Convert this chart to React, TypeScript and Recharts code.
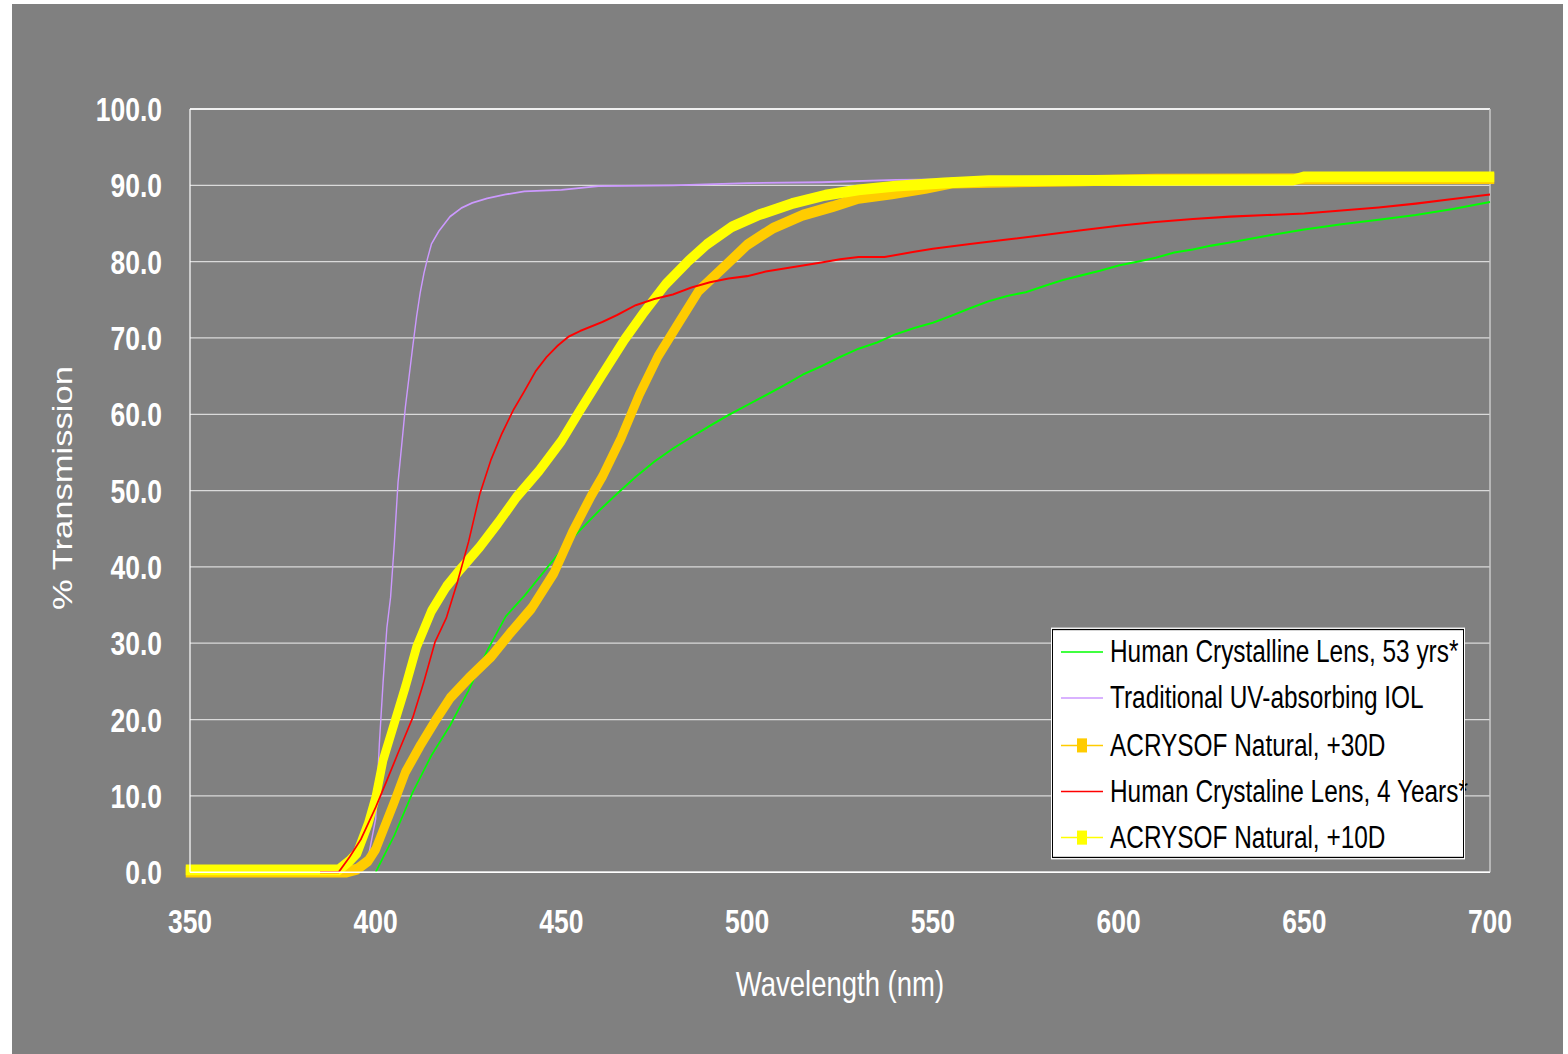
import React from 'react';
import { LineChart, Line, XAxis, YAxis, CartesianGrid, Legend, ReferenceLine } from 'recharts';

// source image is stretched vertically, so the chart is drawn shorter and scaled in Y
const STRETCH = 1.2805;
const FONT = '"Liberation Sans", Arial, Helvetica, sans-serif';

const wavelengthTicks = [350, 400, 450, 500, 550, 600, 650, 700];
const transmissionTicks = [0, 10, 20, 30, 40, 50, 60, 70, 80, 90, 100];

const lens53Wavelength = [400, 405, 410, 415, 420, 425, 430, 435, 440, 445, 450, 455, 460, 465, 470, 475, 480, 485, 490, 495, 500, 505, 510, 515, 520, 525, 530, 535, 540, 545, 550, 555, 560, 565, 570, 575, 580, 585, 590, 595, 600, 605, 610, 615, 620, 625, 630, 640, 650, 660, 670, 680, 690, 700];
const lens53Values = [0, 4.8, 10.5, 15.3, 19.2, 23.8, 29.0, 33.5, 36.2, 39.2, 42.2, 44.8, 47.3, 49.6, 51.8, 53.8, 55.5, 57.0, 58.5, 59.9, 61.2, 62.5, 63.8, 65.2, 66.3, 67.5, 68.6, 69.4, 70.5, 71.3, 72.0, 72.9, 73.9, 74.8, 75.5, 76.0, 76.8, 77.6, 78.2, 78.8, 79.5, 80.0, 80.5, 81.2, 81.6, 82.1, 82.5, 83.4, 84.2, 84.9, 85.5, 86.1, 86.9, 87.8];

const uvIolWavelength = [375, 395, 398, 400, 401, 402, 403, 404, 405, 406, 407, 408, 409, 410, 411, 412, 413, 414, 415, 417, 420, 423, 426, 430, 435, 440, 450, 460, 480, 500, 520, 540, 560, 600, 650, 700];
const uvIolValues = [0, 0, 2, 7, 17, 25, 32, 36, 43, 51, 56, 61, 65, 69, 72.8, 76, 78.5, 80.5, 82.3, 84, 85.9, 87, 87.7, 88.3, 88.8, 89.2, 89.4, 89.9, 90.0, 90.3, 90.4, 90.7, 90.8, 91.2, 91.4, 91.5];

const natural30Wavelength = [350, 392, 395, 398, 400, 402, 405, 408, 412, 416, 420, 425, 431, 436, 442, 448, 453, 458, 461, 466, 471, 476, 482, 487, 494, 500, 507, 515, 523, 530, 539, 548, 555, 590, 610, 700];
const natural30Values = [0, 0, 0.4, 1.5, 3.0, 5.5, 9.2, 13.1, 16.6, 19.8, 22.8, 25.4, 28.2, 31.2, 34.6, 39.2, 44.6, 49.3, 51.8, 56.8, 62.6, 67.6, 72.3, 76.2, 79.4, 82.2, 84.4, 86.1, 87.2, 88.3, 88.9, 89.6, 90.3, 90.6, 90.8, 90.9];

const lens4Wavelength = [385, 390, 393, 396, 400, 403, 406, 410, 413, 416, 419, 422, 425, 428, 431, 434, 437, 440, 443, 446, 449, 452, 455, 458, 461, 465, 470, 475, 480, 485, 490, 495, 500, 505, 510, 515, 520, 525, 530, 537, 545, 550, 560, 570, 580, 590, 600, 610, 620, 630, 640, 650, 660, 670, 680, 690, 700];
const lens4Values = [0, 0, 2, 4.3, 8.5, 12, 15.6, 20.3, 25, 30.2, 33.3, 38, 43.3, 49.5, 54, 57.5, 60.5, 63, 65.6, 67.5, 69, 70.2, 70.9, 71.5, 72.1, 73, 74.3, 75.1, 75.7, 76.6, 77.3, 77.8, 78.1, 78.7, 79.1, 79.5, 79.9, 80.3, 80.6, 80.6, 81.3, 81.7, 82.3, 82.9, 83.5, 84.1, 84.7, 85.2, 85.6, 85.9, 86.1, 86.3, 86.7, 87.1, 87.6, 88.2, 88.8];

const natural10Wavelength = [350, 390, 393, 395, 398, 400, 402, 405, 408, 411, 415, 419, 423, 428, 433, 438, 444, 450, 455, 461, 467, 472, 478, 484, 489, 496, 503, 512, 521, 530, 540, 553, 565, 647, 650, 700];
const natural10Values = [0.3, 0.3, 1.5, 2.5, 6.4, 9.8, 14.7, 19.5, 24.3, 29.5, 34.2, 37.4, 39.8, 42.6, 45.8, 49.2, 52.6, 56.5, 60.5, 65.2, 69.8, 73.2, 77.0, 80.0, 82.2, 84.6, 86.1, 87.6, 88.7, 89.4, 89.9, 90.3, 90.6, 90.7, 91.1, 91.1];

const toPoints = (w: number[], v: number[]) => w.map((x, i) => ({ w: x, v: v[i] }));

const lens53 = { name: 'Human Crystalline Lens, 53 yrs*', color: '#00FF00', width: 1.6, marker: false, data: toPoints(lens53Wavelength, lens53Values) };
const uvIol = { name: 'Traditional UV-absorbing IOL', color: '#CC99FF', width: 1.4, marker: false, data: toPoints(uvIolWavelength, uvIolValues) };
const natural30 = { name: 'ACRYSOF Natural, +30D', color: '#FFCC00', width: 8.5, marker: true, data: toPoints(natural30Wavelength, natural30Values) };
const lens4 = { name: 'Human Crystaline Lens, 4 Years*', color: '#FF0000', width: 1.6, marker: false, data: toPoints(lens4Wavelength, lens4Values) };
const natural10 = { name: 'ACRYSOF Natural, +10D', color: '#FFFF00', width: 8.5, marker: true, data: toPoints(natural10Wavelength, natural10Values) };

const legendOrder = [lens53, uvIol, natural30, lens4, natural10];
// red sits on top of the yellow band, lavender underneath it
const drawOrder = [lens53, uvIol, natural30, natural10, lens4];

const LegendBox = () => (
  <div
    style={{
      width: 412,
      height: 179,
      boxSizing: 'border-box',
      background: '#fff',
      border: '1px solid #000',
      outline: '1.5px solid #fff',
      fontFamily: FONT,
      fontSize: 24.4,
      color: '#000',
    }}
  >
    <div style={{ marginTop: -1 }}>
      {legendOrder.map((s) => (
        <div key={s.name} style={{ height: 36.3, display: 'flex', alignItems: 'center', whiteSpace: 'nowrap' }}>
          <svg width={42} height={14} style={{ marginLeft: 8, marginRight: 7, flex: 'none' }}>
            <line x1={0} x2={42} y1={7} y2={7} stroke={s.color} strokeWidth={1.2} />
            {s.marker && <rect x={16} y={1.5} width={10} height={11} fill={s.color} />}
          </svg>
          <span>{s.name}</span>
        </div>
      ))}
    </div>
  </div>
);

export default function App() {
  return (
    <div style={{ position: 'absolute', left: 12, top: 4, width: 1551, height: 1050, background: '#808080', overflow: 'hidden' }}>
      <div style={{ width: 1551, height: 820, transform: `scaleY(${STRETCH})`, transformOrigin: 'top left' }}>
        <LineChart width={1551} height={820} margin={{ top: 82, right: 73, bottom: 22, left: 0 }}>
          <CartesianGrid vertical={false} stroke="#DADADA" strokeWidth={1} />
          <XAxis
            type="number"
            dataKey="w"
            domain={[350, 700]}
            ticks={wavelengthTicks}
            interval={0}
            height={120}
            axisLine={{ stroke: '#fff', strokeWidth: 1.2 }}
            tickLine={false}
            tickSize={0}
            tickMargin={29}
            tick={{ fill: '#fff', fontSize: 26.5, fontWeight: 700, fontFamily: FONT }}
            label={{
              content: () => (
                <text x={828} y={774.5} textAnchor="middle" fill="#fff" fontSize={27.5} fontFamily={FONT}>
                  Wavelength (nm)
                </text>
              ),
            }}
          />
          <YAxis
            type="number"
            domain={[0, 100]}
            ticks={transmissionTicks}
            interval={0}
            width={178}
            axisLine={{ stroke: '#fff', strokeWidth: 1.2 }}
            tickLine={false}
            tickSize={0}
            tickMargin={28}
            tickFormatter={(v: number) => v.toFixed(1)}
            tick={{ fill: '#fff', fontSize: 26.5, fontWeight: 700, fontFamily: FONT }}
            label={{
              content: () => (
                <text x={60} y={378} transform="rotate(-90 60 378)" textAnchor="middle" fill="#fff" fontSize={27} fontFamily={FONT}>
                  % Transmission
                </text>
              ),
            }}
          />
          <ReferenceLine y={100} stroke="#fff" strokeWidth={1.2} />
          <ReferenceLine x={700} stroke="#C8C8C8" strokeWidth={1.5} />
          {drawOrder.map((s) => (
            <Line
              key={s.name}
              data={s.data}
              dataKey="v"
              name={s.name}
              type="linear"
              stroke={s.color}
              strokeWidth={s.width}
              strokeLinecap={s.marker ? 'square' : 'butt'}
              strokeLinejoin="round"
              dot={false}
              activeDot={false}
              isAnimationActive={false}
            />
          ))}
          <Legend
            layout="vertical"
            align="center"
            verticalAlign="middle"
            content={() => <LegendBox />}
            wrapperStyle={{ left: 1040, top: 488, width: 412, height: 179 }}
          />
        </LineChart>
      </div>
    </div>
  );
}
